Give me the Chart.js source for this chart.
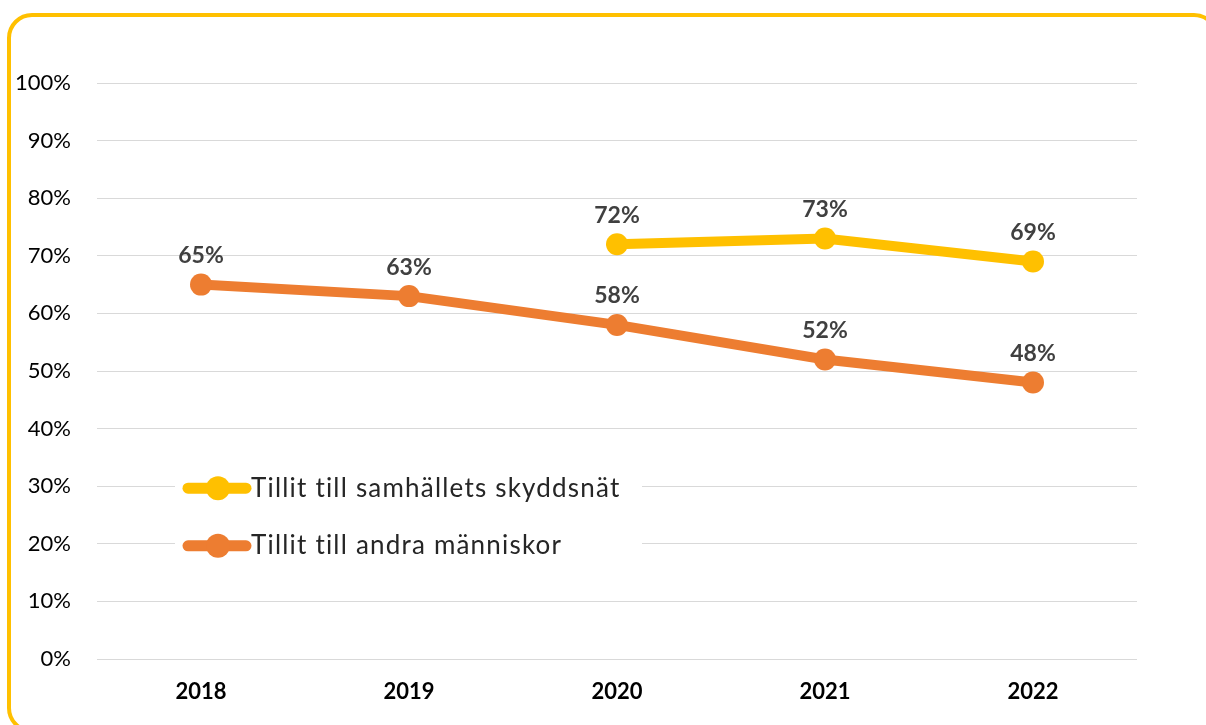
<!DOCTYPE html>
<html>
<head>
<meta charset="utf-8">
<script src="https://cdn.jsdelivr.net/npm/chart.js@4"></script>
<style>
  html, body { margin: 0; padding: 0; background: #fff; overflow: hidden; }
  #wrap { position: relative; width: 1206px; height: 725px; }
  #frame {
    position: absolute; left: 7px; top: 13px; width: 1212px; height: 720px;
    border: 4px solid #FFC000; border-radius: 25px; box-sizing: border-box;
  }
  canvas { position: absolute; left: 0; top: 0; }
</style>
</head>
<body>
<div id="wrap">
  <div id="frame"></div>
  <canvas id="chart_line" width="1206" height="725"></canvas>
</div>
<script>
const years = ['2018', '2019', '2020', '2021', '2022'];
const skyddsnat = [null, null, 72, 73, 69];
const manniskor = [65, 63, 58, 52, 48];
const yTicks = [0, 10, 20, 30, 40, 50, 60, 70, 80, 90, 100];

const seriesNames = ['Tillit till samhällets skyddsnät', 'Tillit till andra människor'];
const seriesColors = ['#FFC000', '#ED7D31'];

// data labels above each point
const labelPlugin = {
  id: 'pointLabels',
  afterDatasetsDraw(chart) {
    const ctx = chart.ctx;
    ctx.save();
    ctx.font = 'bold 23px Lato';
    ctx.fillStyle = '#404040';
    ctx.textAlign = 'center';
    ctx.textBaseline = 'middle';
    chart.data.datasets.forEach((ds, i) => {
      chart.getDatasetMeta(i).data.forEach((pt, j) => {
        if (ds.data[j] == null) return;
        ctx.fillText(ds.data[j] + '%', pt.x, pt.y - 29);
      });
    });
    ctx.restore();
  }
};

// legend drawn inside the plot, over the gridlines
const legendPlugin = {
  id: 'innerLegend',
  afterDraw(chart) {
    const ctx = chart.ctx;
    const y = chart.scales.y;
    ctx.save();
    ctx.fillStyle = '#fff';
    ctx.fillRect(175, y.getPixelForValue(35), 467, y.getPixelForValue(15) - y.getPixelForValue(35));
    seriesNames.forEach((name, i) => {
      const cy = y.getPixelForValue(30 - i * 10) + 2;
      ctx.strokeStyle = seriesColors[i];
      ctx.lineWidth = 11;
      ctx.lineCap = 'round';
      ctx.beginPath();
      ctx.moveTo(188, cy);
      ctx.lineTo(246, cy);
      ctx.stroke();
      ctx.fillStyle = seriesColors[i];
      ctx.beginPath();
      ctx.arc(218, cy, 12, 0, Math.PI * 2);
      ctx.fill();
      ctx.fillStyle = '#262626';
      ctx.font = '26px Lato';
      ctx.letterSpacing = '1.2px';
      ctx.textAlign = 'left';
      ctx.textBaseline = 'middle';
      ctx.fillText(name, 251, cy);
    });
    ctx.restore();
  }
};

new Chart(document.getElementById('chart_line'), {
  type: 'line',
  data: {
    labels: years,
    datasets: [
      {
        label: seriesNames[0],
        data: skyddsnat,
        borderColor: seriesColors[0],
        backgroundColor: seriesColors[0],
        borderWidth: 10,
        pointRadius: 11,
        pointHoverRadius: 11,
        pointBorderWidth: 0,
        tension: 0,
        spanGaps: false,
      },
      {
        label: seriesNames[1],
        data: manniskor,
        borderColor: seriesColors[1],
        backgroundColor: seriesColors[1],
        borderWidth: 10,
        pointRadius: 11,
        pointHoverRadius: 11,
        pointBorderWidth: 0,
        tension: 0,
      },
    ],
  },
  options: {
    responsive: false,
    animation: false,
    layout: { padding: { top: 83, right: 69, bottom: 0, left: 0 } },
    scales: {
      x: {
        offset: true,
        grid: { display: false, drawTicks: false },
        border: { display: false },
        ticks: { color: '#000', font: { family: 'Lato', size: 22, weight: 'bold' }, padding: 20 },
        afterFit(scale) { scale.height = 66; },
      },
      y: {
        min: 0,
        max: 100,
        afterBuildTicks(scale) { scale.ticks = yTicks.map(v => ({ value: v })); },
        grid: { color: '#d9d9d9', lineWidth: 1, drawTicks: false },
        border: { display: false },
        ticks: {
          color: '#000',
          font: { family: 'Lato', size: 22 },
          padding: 26,
          callback: (v) => v + '%',
        },
        afterFit(scale) { scale.width = 97; },
      },
    },
    plugins: {
      legend: { display: false },
      tooltip: { enabled: false },
    },
  },
  plugins: [labelPlugin, legendPlugin],
});
</script>
</body>
</html>
